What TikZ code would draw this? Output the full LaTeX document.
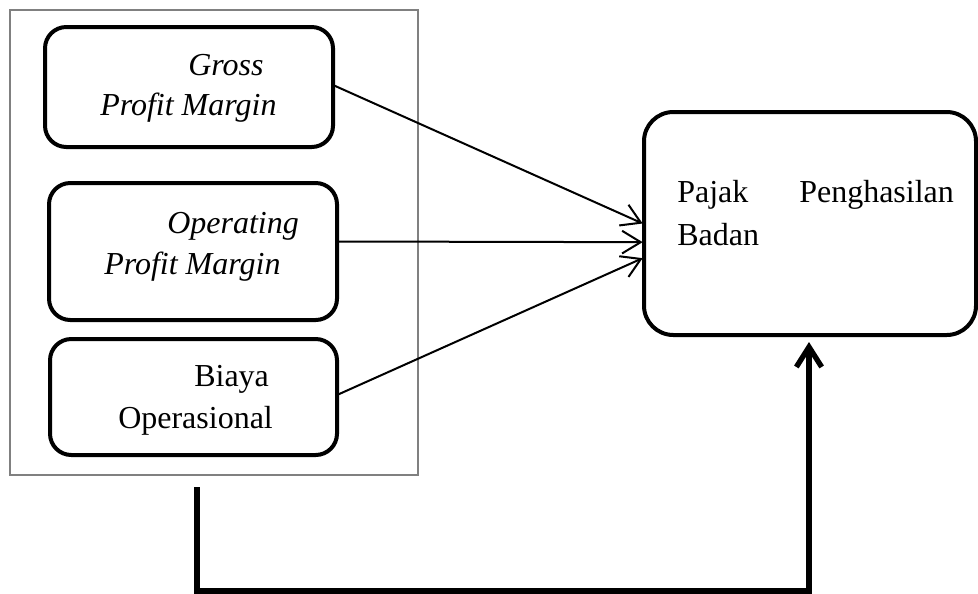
\documentclass[tikz,border=0pt]{standalone}
\usepackage{fontspec}
\setmainfont{Liberation Serif}
\usetikzlibrary{arrows.meta,fit}
\begin{document}
\begin{tikzpicture}[x=0.75pt,y=-0.75pt,
  box/.style={draw, line width=3pt, rounded corners=16pt, inner sep=0pt, outer sep=0pt},
  bigbox/.style={draw, line width=3pt, rounded corners=22pt, inner sep=0pt, outer sep=0pt},
  lbl/.style={anchor=base west, inner sep=0pt, font=\fontsize{24}{30}\selectfont},
  thinarrow/.style={line width=1.5pt, -{Straight Barb[length=14pt,width=17pt,line width=1.5pt]}},
  heavyarrow/.style={line width=4pt, line join=miter, -{Straight Barb[length=15pt,width=19pt,line width=4pt]}}]
\useasboundingbox (0,0) rectangle (978,593);
\node[draw=gray, line width=0.8pt, inner sep=0pt, outer sep=0pt, fit={(10,10)(418,475)}] (frame) {};
\node[box, fit={(45,27)(333,147)}] (gross) {};
\node[box, fit={(49,183)(337,320)}] (oper) {};
\node[box, fit={(50,339)(337,455)}] (biaya) {};
\node[bigbox, fit={(644,112)(976,335)}] (pajak) {};
% texts
\node[lbl] (g1) at (188,75) {\textit{Gross}};
\node[lbl] (g2) at (100,115) {\textit{Profit Margin}};
\node[lbl] (o1) at (167,233) {\textit{Operating}};
\node[lbl] (o2) at (104,274) {\textit{Profit Margin}};
\node[lbl] (b1) at (194,386) {Biaya};
\node[lbl] (b2) at (118,428) {Operasional};
\node[lbl] (p1) at (677,202) {Pajak};
\node[lbl] (p2) at (799,202) {Penghasilan};
\node[lbl] (p3) at (677,245) {Badan};
% arrows
\draw[thinarrow] ([yshift=1.5pt]gross.east) -- ([xshift=-1pt]pajak.west);
\draw[thinarrow] ([yshift=7.5pt]oper.east) -- ([xshift=-1pt,yshift=-14pt]pajak.west);
\draw[thinarrow] ([yshift=1.5pt]biaya.east) -- ([xshift=-1pt,yshift=-26pt]pajak.west);
% thick feedback arrow
\coordinate (s) at (197,487);
\coordinate (c) at (197,591);
\coordinate (e) at (809,342);
\draw[heavyarrow] (s) -- (c) -| (e);
\end{tikzpicture}
\end{document}
